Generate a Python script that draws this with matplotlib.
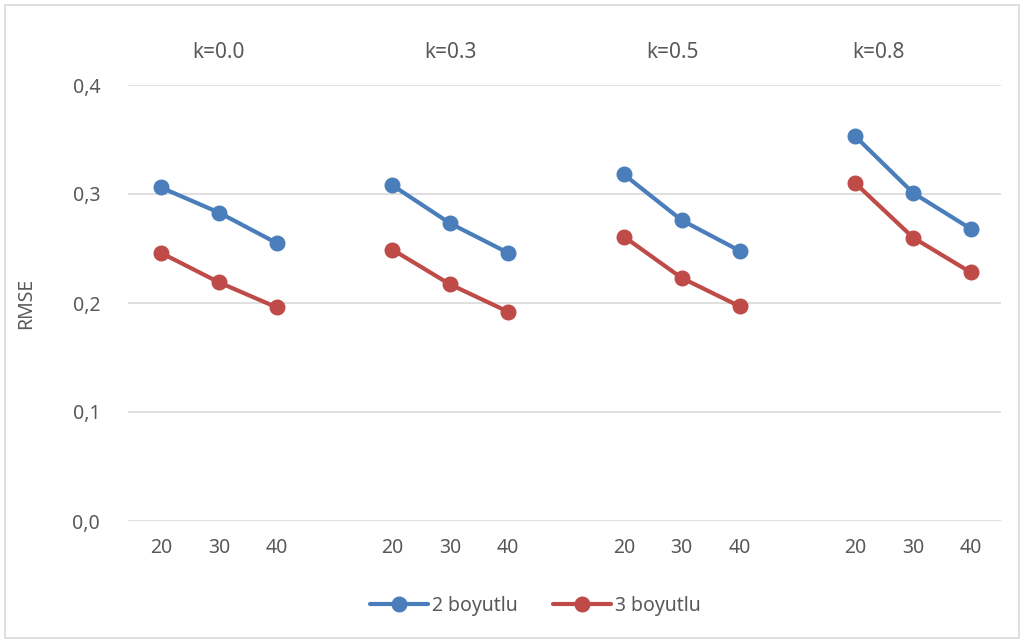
import numpy as np
import matplotlib
matplotlib.use('Agg')
import matplotlib.pyplot as plt
from matplotlib.patches import Rectangle
from matplotlib.ticker import FuncFormatter

# data
groups = ['k=0.0', 'k=0.3', 'k=0.5', 'k=0.8']
sizes = ['20', '30', '40']
rmse_2d = [[0.306, 0.283, 0.255],
           [0.308, 0.273, 0.246],
           [0.318, 0.276, 0.248],
           [0.353, 0.301, 0.268]]
rmse_3d = [[0.246, 0.219, 0.196],
           [0.249, 0.217, 0.192],
           [0.261, 0.223, 0.197],
           [0.310, 0.260, 0.228]]

blue = '#4A7EBB'
red = '#BE4B48'
txt = '#595959'
plt.rcParams['font.family'] = ['Noto Sans', 'DejaVu Sans']

def flatten(series):
    # one empty category between groups -> nan breaks the line
    out = []
    for i, g in enumerate(series):
        out += list(g)
        if i < len(series) - 1:
            out.append(np.nan)
    return np.array(out)

y2 = flatten(rmse_2d)
y3 = flatten(rmse_3d)
x = np.arange(len(y2))
labels = []
for i in range(len(groups)):
    labels += sizes
    if i < len(groups) - 1:
        labels.append('')

fig = plt.figure(figsize=(10.25, 6.41), dpi=100)
ax = fig.add_axes([128/1025, 1 - 521/641, 873/1025, 436/641])

ax.plot(x, y2, color=blue, lw=3, marker='o', ms=10.5, label='2 boyutlu', solid_capstyle='round')
ax.plot(x, y3, color=red, lw=3, marker='o', ms=10.5, label='3 boyutlu', solid_capstyle='round')

ax.set_xlim(-0.57, 14.52)
ax.set_ylim(0, 0.4)
ax.set_yticks([0, 0.1, 0.2, 0.3, 0.4])
ax.yaxis.set_major_formatter(FuncFormatter(lambda v, p: f'{v:.1f}'.replace('.', ',')))
ax.set_xticks(x)
ax.set_xticklabels(labels)
ax.grid(axis='y', color='#D9D9D9', lw=1.2)
ax.set_axisbelow(True)
for s in ax.spines.values():
    s.set_visible(False)
ax.tick_params(length=0, labelsize=14, colors=txt, pad=12)
ax.tick_params(axis='y', pad=20)
ax.set_ylabel('RMSE', fontsize=14, color=txt)
ax.yaxis.set_label_coords(-0.105, 0.5)

group_x = [1.0, 5.0, 8.85, 12.4]
for gx, g in zip(group_x, groups):
    ax.text(gx, 0.430, g, ha='center', va='center', fontsize=15, color=txt, clip_on=False)

leg = fig.legend(loc='center', bbox_to_anchor=(535/1025, 1 - 606/641), ncol=2, frameon=False,
                 fontsize=14, handlelength=3.0, columnspacing=1.8, handletextpad=0.2)
for t in leg.get_texts():
    t.set_color(txt)

fig.patches.append(Rectangle((5/1025, 3/641), 1014/1025, 633/641, transform=fig.transFigure,
                             fill=False, edgecolor='#D9D9D9', lw=1.2))

fig.savefig('out.png', dpi=100)
